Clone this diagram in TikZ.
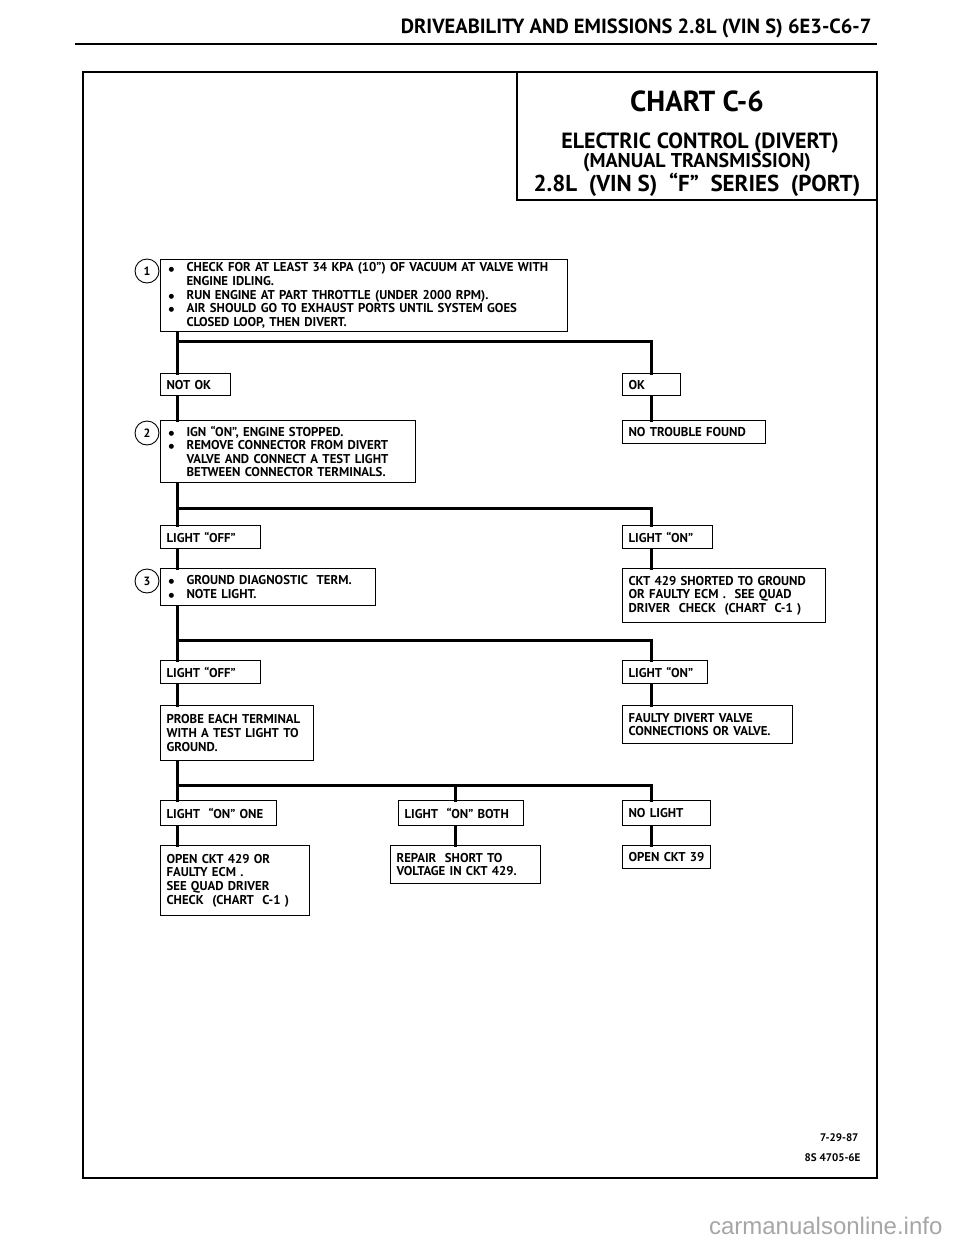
\documentclass[tikz,border=0pt]{standalone}
\usepackage{fontspec}
\setmainfont{PT Sans}
\newfontfamily\wmfont{Liberation Sans}
\newfontfamily\dejavu{DejaVu Sans}
\begin{document}
\begin{tikzpicture}[x=1pt,y=-1pt,
  box/.style={draw,line width=1.1pt,anchor=north west,align=left,inner xsep=6pt,inner ysep=3pt,
    font=\fontsize{12.8}{13.6}\selectfont\bfseries},
  lbl/.style={box},
  conn/.style={line width=3pt,line cap=rect},
  num/.style={draw,circle,line width=0.9pt,minimum size=24pt,inner sep=0pt,font=\fontsize{12}{12}\selectfont\bfseries},
  frame/.style={line width=2pt}]
\useasboundingbox (0,0) rectangle (960,1242);
\newcommand{\bl}{\makebox[20pt][l]{\hspace*{2pt}\raisebox{0.8pt}{\dejavu\fontsize{6.5}{6.5}\selectfont ●}}}
\newcommand{\ind}{\hspace*{20pt}}
% header
\node[anchor=base east,font=\fontsize{20.5}{20.5}\selectfont\bfseries] (hdr) at (875,33) {DRIVEABILITY AND EMISSIONS 2.8L (VIN S) 6E3-C6-7};
\draw[line width=1.4pt] (75,44) -- (877,44);
% frame
\draw[frame] (83,72) rectangle (877,1178);
\draw[frame] (517,72) -- (517,200) -- (877,200);
\node[font=\fontsize{29}{29}\selectfont\bfseries] (t1) at (697,101) {CHART C-6};
\node[font=\fontsize{22}{22}\selectfont\bfseries] (t2) at (700,143) {ELECTRIC CONTROL (DIVERT)};
\node[font=\fontsize{20}{20}\selectfont\bfseries] (t3) at (697,163) {(MANUAL TRANSMISSION)};
\node[font=\fontsize{23}{23}\selectfont\bfseries] (t4) at (697,185) {2.8L\ \ (VIN S)\ \ “F”\ \ SERIES\ \ (PORT)};
% step 1
\node[num] (n1) at (147,271) {1};
\node[box,text width=395pt,minimum height=72pt] (b1) at (160,259) {\bl CHECK FOR AT LEAST 34 KPA (10”) OF VACUUM AT VALVE WITH\\ \ind ENGINE IDLING.\\ \bl RUN ENGINE AT PART THROTTLE (UNDER 2000 RPM).\\ \bl AIR SHOULD GO TO EXHAUST PORTS UNTIL SYSTEM GOES\\ \ind CLOSED LOOP, THEN DIVERT.};
\node[lbl,text width=58pt,minimum height=22pt] (notok) at (160,373) {NOT OK};
\node[lbl,text width=46pt,minimum height=22pt] (ok) at (622,373) {OK};
\coordinate (bus1L) at (177,341);
\coordinate (bus1R) at (651,341);
\draw[conn] (b1.south -| bus1L) -- (bus1L) -- (bus1R) -- (ok.north -| bus1R);
\draw[conn] (bus1L) -- (notok.north -| bus1L);
% step 2
\node[num] (n2) at (147,433) {2};
\node[box,text width=243pt,minimum height=62pt] (b2) at (160,420) {\bl IGN “ON”, ENGINE STOPPED.\\ \bl REMOVE CONNECTOR FROM DIVERT\\ \ind VALVE AND CONNECT A TEST LIGHT\\ \ind BETWEEN CONNECTOR TERMINALS.};
\node[box,text width=131pt,minimum height=23pt] (ntf) at (622,420) {NO TROUBLE FOUND};
\draw[conn] (notok.south -| bus1L) -- (b2.north -| bus1L);
\draw[conn] (ok.south -| bus1R) -- (ntf.north -| bus1R);
\coordinate (bus2L) at (177,508);
\coordinate (bus2R) at (651,508);
\node[lbl,text width=88pt,minimum height=23pt] (off1) at (160,525) {LIGHT “OFF”};
\node[lbl,text width=78pt,minimum height=23pt] (on1) at (622,525) {LIGHT “ON”};
\draw[conn] (b2.south -| bus2L) -- (bus2L) -- (bus2R) -- (on1.north -| bus2R);
\draw[conn] (bus2L) -- (off1.north -| bus2L);
% step 3
\node[num] (n3) at (147,581) {3};
\node[box,text width=203pt,minimum height=37pt] (b3) at (160,568) {\bl GROUND DIAGNOSTIC\ \ TERM.\\ \bl NOTE LIGHT.};
\node[box,text width=191pt,minimum height=54pt] (ckt) at (622,568) {CKT 429 SHORTED TO GROUND\\ OR FAULTY ECM .\ \ SEE QUAD\\ DRIVER\ \ CHECK\ \ (CHART\ \ C-1 )};
\draw[conn] (off1.south -| bus2L) -- (b3.north -| bus2L);
\draw[conn] (on1.south -| bus2R) -- (ckt.north -| bus2R);
\coordinate (bus3L) at (177,640);
\coordinate (bus3R) at (651,640);
\node[lbl,text width=88pt,minimum height=23pt] (off2) at (160,660) {LIGHT “OFF”};
\node[lbl,text width=73pt,minimum height=23pt] (on2) at (622,660) {LIGHT “ON”};
\draw[conn] (b3.south -| bus3L) -- (bus3L) -- (bus3R) -- (on2.north -| bus3R);
\draw[conn] (bus3L) -- (off2.north -| bus3L);
% step 4
\node[box,text width=141pt,minimum height=55pt] (probe) at (160,705) {PROBE EACH TERMINAL\\ WITH A TEST LIGHT TO\\ GROUND.};
\node[box,text width=158pt,minimum height=38pt] (fdv) at (622,705) {FAULTY DIVERT VALVE\\ CONNECTIONS OR VALVE.};
\draw[conn] (off2.south -| bus3L) -- (probe.north -| bus3L);
\draw[conn] (on2.south -| bus3R) -- (fdv.north -| bus3R);
\coordinate (bus4L) at (177,785);
\coordinate (bus4M) at (455,785);
\coordinate (bus4R) at (651,785);
\node[lbl,text width=104pt,minimum height=25pt] (one) at (160,800) {LIGHT\ \ “ON” ONE};
\node[lbl,text width=113pt,minimum height=25pt] (both) at (398,800) {LIGHT\ \ “ON” BOTH};
\node[lbl,text width=76pt,minimum height=25pt] (nol) at (622,800) {NO LIGHT};
\draw[conn] (probe.south -| bus4L) -- (bus4L) -- (bus4R) -- (nol.north -| bus4R);
\draw[conn] (bus4L) -- (one.north -| bus4L);
\draw[conn] (bus4M) -- (both.north -| bus4M);
\node[box,text width=137pt,minimum height=70pt] (r1) at (160,845) {OPEN CKT 429 OR\\ FAULTY ECM .\\ SEE QUAD DRIVER\\ CHECK\ \ (CHART\ \ C-1 )};
\node[box,text width=138pt,minimum height=38pt] (r2) at (390,845) {REPAIR\ \ SHORT TO\\ VOLTAGE IN CKT 429.};
\node[lbl,text width=76pt,minimum height=23pt] (r3) at (622,845) {OPEN\ CKT\ 39};
\draw[conn] (one.south -| bus4L) -- (r1.north -| bus4L);
\draw[conn] (both.south -| bus4M) -- (r2.north -| bus4M);
\draw[conn] (nol.south -| bus4R) -- (r3.north -| bus4R);
% footer
\node[anchor=east,font=\fontsize{11}{11}\selectfont\bfseries] (d1) at (862,1138) {7-29-87};
\node[anchor=east,font=\fontsize{11}{11}\selectfont\bfseries] (d2) at (864,1158) {8S 4705-6E};
\node[anchor=east,font=\fontsize{24}{24}\wmfont,text=black!35] (wm) at (946,1226) {carmanualsonline.info};
\end{tikzpicture}
\end{document}
